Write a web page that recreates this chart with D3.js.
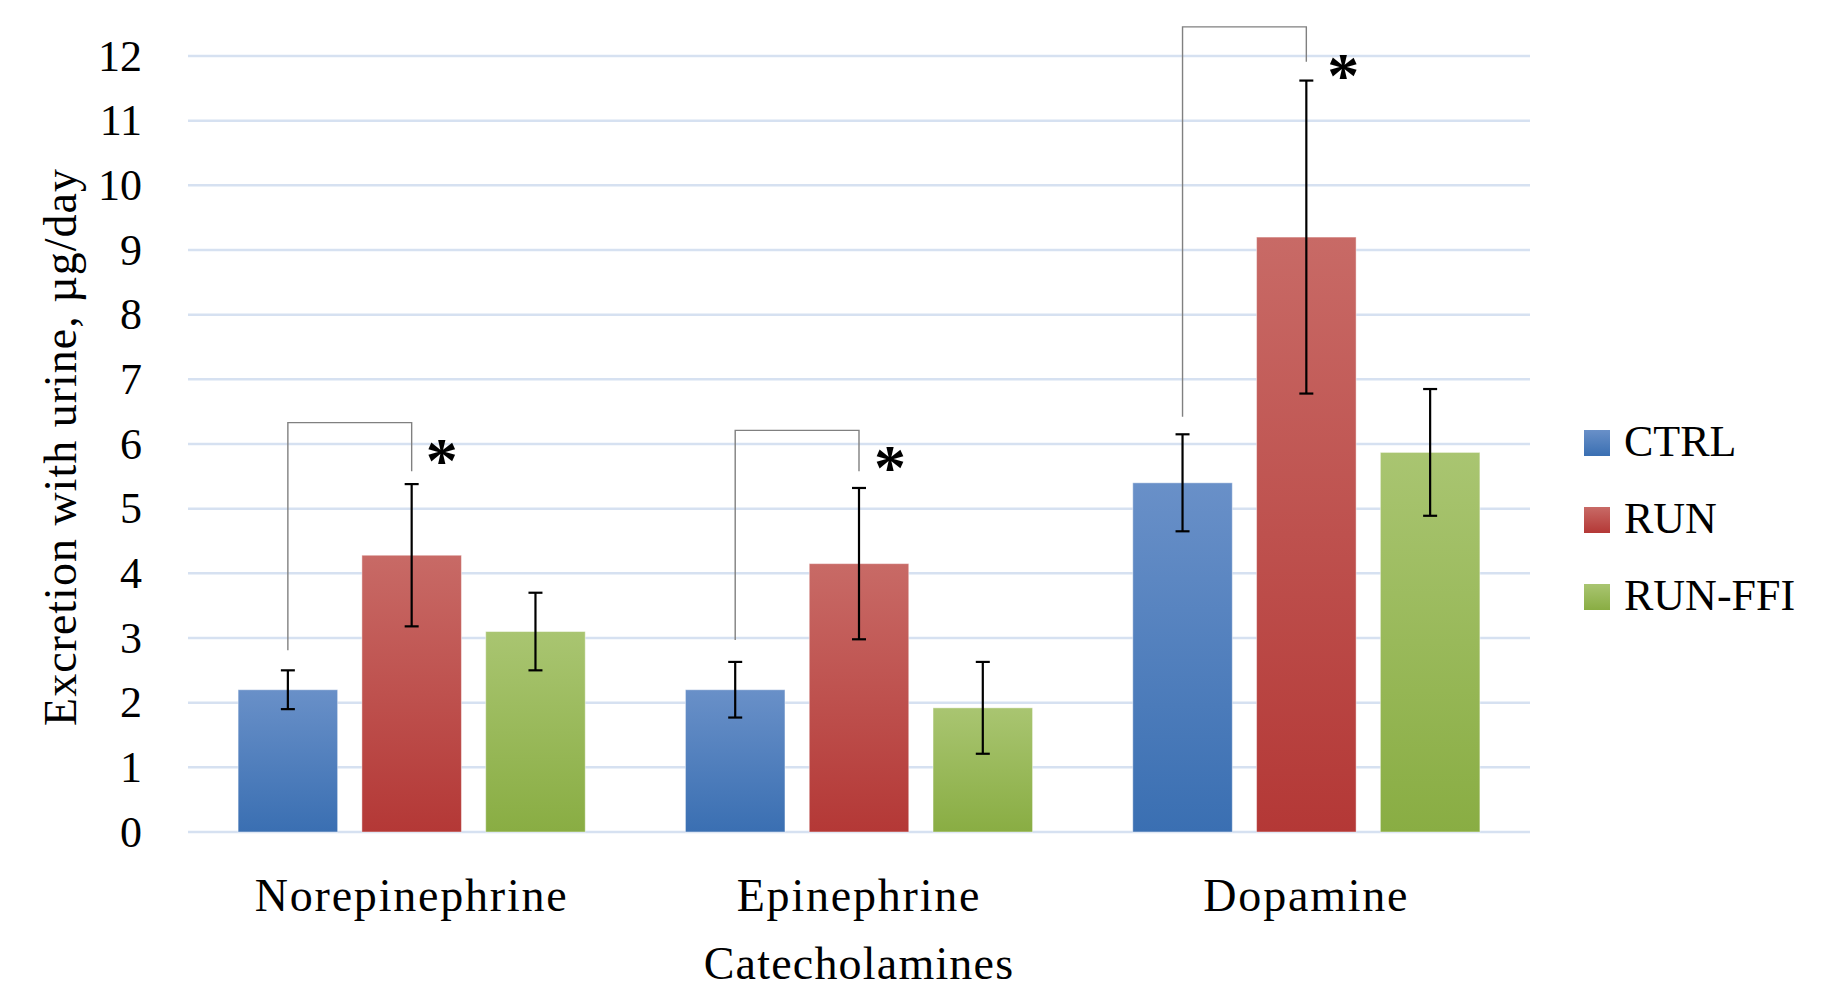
<!DOCTYPE html>
<html>
<head>
<meta charset="utf-8">
<script src="https://cdn.jsdelivr.net/npm/d3@7"></script>
<style>
  html, body { margin: 0; padding: 0; background: #fff; }
  svg { display: block; }
  text { font-family: 'Palatino Linotype', 'Book Antiqua', Palatino, 'Liberation Serif', serif; fill: #000; }
</style>
</head>
<body>
<svg id="chart"></svg>
<script>
// data
const categories = ['Norepinephrine', 'Epinephrine', 'Dopamine'];
const seriesNames = ['CTRL', 'RUN', 'RUN-FFI'];
const ctrlValues = [2.2, 2.2, 5.4];
const ctrlErrors = [0.3, 0.43, 0.75];
const runValues = [4.28, 4.15, 9.2];
const runErrors = [1.1, 1.17, 2.42];
const ffiValues = [3.1, 1.92, 5.87];
const ffiErrors = [0.6, 0.71, 0.98];
const yTicks = [0, 1, 2, 3, 4, 5, 6, 7, 8, 9, 10, 11, 12];
// significance brackets CTRL vs RUN: [left end, top, right end]
const bracketLevels = [[2.81, 6.33, 5.58], [2.97, 6.21, 5.58], [6.42, 12.45, 11.91]];
const starLevels = [6.02, 5.92, 11.98];

const seriesValues = [ctrlValues, runValues, ffiValues];
const seriesErrors = [ctrlErrors, runErrors, ffiErrors];
const gradStops = [
  ['#6990c8', '#3a6fb2'],
  ['#c86a66', '#b43836'],
  ['#a9c571', '#89ad43']
];

const width = 1821, height = 1004;
const margin = { top: 56, right: 291, bottom: 172, left: 188 };

const svg = d3.select('#chart').attr('width', width).attr('height', height);

const defs = svg.append('defs');
gradStops.forEach((g, i) => {
  const lg = defs.append('linearGradient')
    .attr('id', 'grad' + i)
    .attr('x1', 0).attr('y1', 0).attr('x2', 0).attr('y2', 1);
  lg.append('stop').attr('offset', '0%').attr('stop-color', g[0]);
  lg.append('stop').attr('offset', '100%').attr('stop-color', g[1]);
});

const x0 = d3.scaleBand()
  .domain(categories)
  .range([margin.left, width - margin.right])
  .paddingInner(0.224)
  .paddingOuter(0.112);

const x1 = d3.scaleBand()
  .domain(seriesNames)
  .range([0, x0.bandwidth()])
  .paddingInner(0.196);

const y = d3.scaleLinear()
  .domain([0, 12])
  .range([height - margin.bottom, margin.top]);

// gridlines
svg.append('g')
  .selectAll('line')
  .data(yTicks)
  .enter()
  .append('line')
  .attr('x1', margin.left)
  .attr('x2', width - margin.right)
  .attr('y1', d => y(d))
  .attr('y2', d => y(d))
  .attr('stroke', '#d6e1f1')
  .attr('stroke-width', 2.5);

// y axis labels
const yAxis = svg.append('g')
  .attr('transform', `translate(${margin.left - 46}, 0)`)
  .call(d3.axisLeft(y).tickValues(yTicks).tickSize(0).tickPadding(0));
yAxis.select('.domain').remove();
yAxis.selectAll('text')
  .style('font-family', "'Palatino Linotype', 'Book Antiqua', Palatino, 'Liberation Serif', serif")
  .style('font-size', '44px')
  .attr('fill', '#000');

// bars
const groups = svg.append('g')
  .selectAll('g')
  .data(categories)
  .enter()
  .append('g')
  .attr('transform', d => `translate(${x0(d)}, 0)`);

groups.each(function (cat, ci) {
  const g = d3.select(this);
  seriesNames.forEach((s, si) => {
    const v = seriesValues[si][ci];
    g.append('rect')
      .attr('x', x1(s))
      .attr('y', y(v))
      .attr('width', x1.bandwidth())
      .attr('height', y(0) - y(v))
      .attr('fill', `url(#grad${si})`)
      .attr('stroke', 'rgba(255,255,255,0.45)')
      .attr('stroke-width', 1);
  });
});

// error bars
groups.each(function (cat, ci) {
  const g = d3.select(this);
  seriesNames.forEach((s, si) => {
    const v = seriesValues[si][ci];
    const e = seriesErrors[si][ci];
    const cx = x1(s) + x1.bandwidth() / 2;
    const cap = 7;
    g.append('line')
      .attr('x1', cx).attr('x2', cx)
      .attr('y1', y(v + e)).attr('y2', y(v - e))
      .attr('stroke', '#000').attr('stroke-width', 2.2);
    [v + e, v - e].forEach(t => {
      g.append('line')
        .attr('x1', cx - cap).attr('x2', cx + cap)
        .attr('y1', y(t)).attr('y2', y(t))
        .attr('stroke', '#000').attr('stroke-width', 2.2);
    });
  });
});

// significance brackets
const starOffsets = [30, 31, 37];
groups.each(function (cat, ci) {
  const g = d3.select(this);
  const lx = x1('CTRL') + x1.bandwidth() / 2;
  const rx = x1('RUN') + x1.bandwidth() / 2;
  const b = bracketLevels[ci];
  g.append('path')
    .attr('d', `M${lx},${y(b[0])}V${y(b[1])}H${rx}V${y(b[2])}`)
    .attr('fill', 'none')
    .attr('stroke', '#808080')
    .attr('stroke-width', 1.4);
  g.append('text')
    .attr('x', rx + starOffsets[ci])
    .attr('y', y(starLevels[ci]))
    .attr('dy', '0.62em')
    .attr('text-anchor', 'middle')
    .style('font-size', '64px')
    .style('font-weight', 'bold')
    .text('*');
});

// category labels
svg.append('g')
  .selectAll('text')
  .data(categories)
  .enter()
  .append('text')
  .attr('x', d => x0(d) + x0.bandwidth() / 2)
  .attr('y', 911)
  .attr('text-anchor', 'middle')
  .style('font-size', '46px')
  .style('letter-spacing', '1.8px')
  .text(d => d);

// axis titles
svg.append('text')
  .attr('x', (margin.left + width - margin.right) / 2)
  .attr('y', 979)
  .attr('text-anchor', 'middle')
  .style('font-size', '46px')
  .style('letter-spacing', '1.2px')
  .text('Catecholamines');

svg.append('text')
  .attr('transform', `translate(76, 447) rotate(-90)`)
  .attr('text-anchor', 'middle')
  .style('font-size', '46px')
  .style('letter-spacing', '1px')
  .text('Excretion with urine, µg/day');

// legend
const legend = svg.append('g')
  .selectAll('g')
  .data(seriesNames)
  .enter()
  .append('g')
  .attr('transform', (d, i) => `translate(1584, ${430 + i * 77})`);

legend.append('rect')
  .attr('width', 26)
  .attr('height', 26)
  .attr('fill', (d, i) => `url(#grad${i})`);

legend.append('text')
  .attr('x', 40)
  .attr('y', 26)
  .style('font-size', '44px')
  .text(d => d);
</script>
</body>
</html>
